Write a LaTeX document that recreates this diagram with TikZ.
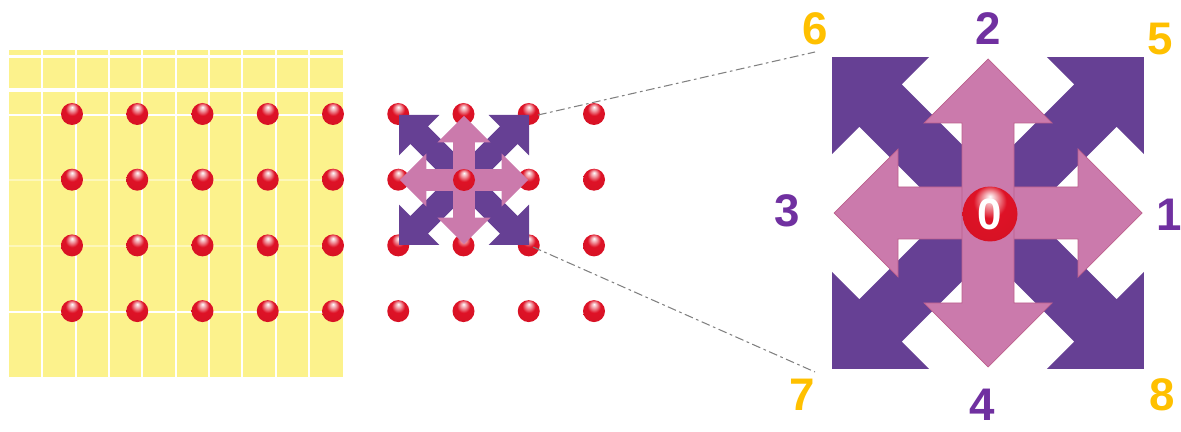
\documentclass[tikz,border=0pt]{standalone}
\usepackage{fontspec}
\usepackage{tikz}
\usetikzlibrary{calc}
\newfontfamily\numfont{Liberation Sans}
\definecolor{gridyellow}{RGB}{252,242,140}
\definecolor{xpurple}{RGB}{102,64,148}
\definecolor{crosspink}{RGB}{203,122,172}
\definecolor{pinkedge}{RGB}{188,96,140}
\definecolor{numpurple}{RGB}{112,48,160}
\definecolor{numorange}{RGB}{255,192,0}
\definecolor{dotred}{RGB}{222,18,38}
\pgfdeclareradialshading{redball}{\pgfpoint{0bp}{16bp}}{color(0bp)=(white); color(7bp)=(dotred!45!white); color(15bp)=(dotred); color(40bp)=(dotred!95!black); color(50bp)=(dotred!85!black)}
% double headed block arrow: tip, head back, head half width, shaft half width
\newcommand{\dblarrow}[5][]{\path[#1] (-#2,0) -- (-#3,#4) -- (-#3,#5) -- (#3,#5) -- (#3,#4) -- (#2,0) -- (#3,-#4) -- (#3,-#5) -- (-#3,-#5) -- (-#3,-#4) -- cycle;}

\begin{document}
\begin{tikzpicture}[x=0.02cm,y=-0.02cm]
                      \tikzstyle{dot}=[circle,inner sep=0pt,minimum size=0.44cm,shading=redball,shading angle=0]
                      \tikzstyle{num}=[font=\numfont\bfseries\fontsize{26}{26}\selectfont,inner sep=0pt]
                      \tikzstyle{zoomline}=[gray,line width=0.6pt,dash pattern=on 5pt off 2pt on 1.5pt off 2pt]
                      \useasboundingbox (0,0) rectangle (1181,432);
                      % yellow grid
                      \fill[gridyellow] (9,50) rectangle (343,377);
                      \foreach \x in {42,76,109,142,176,209,242,276,309}
                        \draw[white,line width=1.7pt] (\x,50) -- (\x,377);
                      \draw[white,line width=1.7pt] (9,56.5) -- (343,56.5);
                      \draw[white,line width=2.2pt] (9,90) -- (343,90);
                      \draw[white,line width=0.9pt] (9,115) -- (343,115) (9,312) -- (343,312);
                      \draw[white,opacity=0.4,line width=0.9pt] (9,180) -- (343,180) (9,246) -- (343,246);
                      % lattice points
                      \foreach \i in {0,...,8}
                        \foreach \j in {0,...,3}
                          {\ifnum\i\j=61 \else \node[dot] (d\i\j) at ({72+65.25*\i},{114+65.7*\j}) {};\fi}
                      % small arrows
                      \begin{scope}[shift={(464,180)},scale=0.4167]
                        \dblarrow[fill=xpurple,rotate=45]{220.6}{152}{68.6}{30}
                        \dblarrow[fill=xpurple,rotate=-45]{220.6}{152}{68.6}{30}
                        \dblarrow[fill=crosspink]{154}{90}{64}{26}
                        \dblarrow[fill=crosspink,rotate=90]{154}{90}{64}{26}
                      \end{scope}
                      \node[dot] (s0) at (464,180) {};
                      % big arrows
                      \begin{scope}[shift={(988,213)}]
                        \dblarrow[fill=xpurple,rotate=45]{220.6}{152}{68.6}{30}
                        \dblarrow[fill=xpurple,rotate=-45]{220.6}{152}{68.6}{30}
                        \dblarrow[fill=crosspink,draw=pinkedge,line width=0.4pt]{154}{90}{64}{26}
                        \dblarrow[fill=crosspink,draw=pinkedge,line width=0.4pt,rotate=90]{154}{90}{64}{26}
                      \end{scope}
                      \node[dot,minimum size=1.1cm,text=white,font=\numfont\bfseries\fontsize{25}{25}\selectfont] (b0) at (990,214) {0};
                      % direction numbers
                      \node[num,text=numpurple] (n1) at (1169,215) {1};
                      \node[num,text=numpurple] (n2) at (988,29) {2};
                      \node[num,text=numpurple] (n3) at (787,211) {3};
                      \node[num,text=numpurple] (n4) at (982,405) {4};
                      \node[num,text=numorange] (n5) at (1160,39) {5};
                      \node[num,text=numorange] (n6) at (815,29) {6};
                      \node[num,text=numorange] (n7) at (802,395) {7};
                      \node[num,text=numorange] (n8) at (1162,395) {8};
                      % zoom lines
                      \coordinate (sNE) at (538,115);
                      \coordinate (bNW) at (815,52);
                      \coordinate (sSE) at (533,247);
                      \coordinate (bSW) at (815,372);
                      \draw[zoomline] (sNE) -- (bNW);
                      \draw[zoomline] (sSE) -- (bSW);
                  \end{tikzpicture}
\end{document}
